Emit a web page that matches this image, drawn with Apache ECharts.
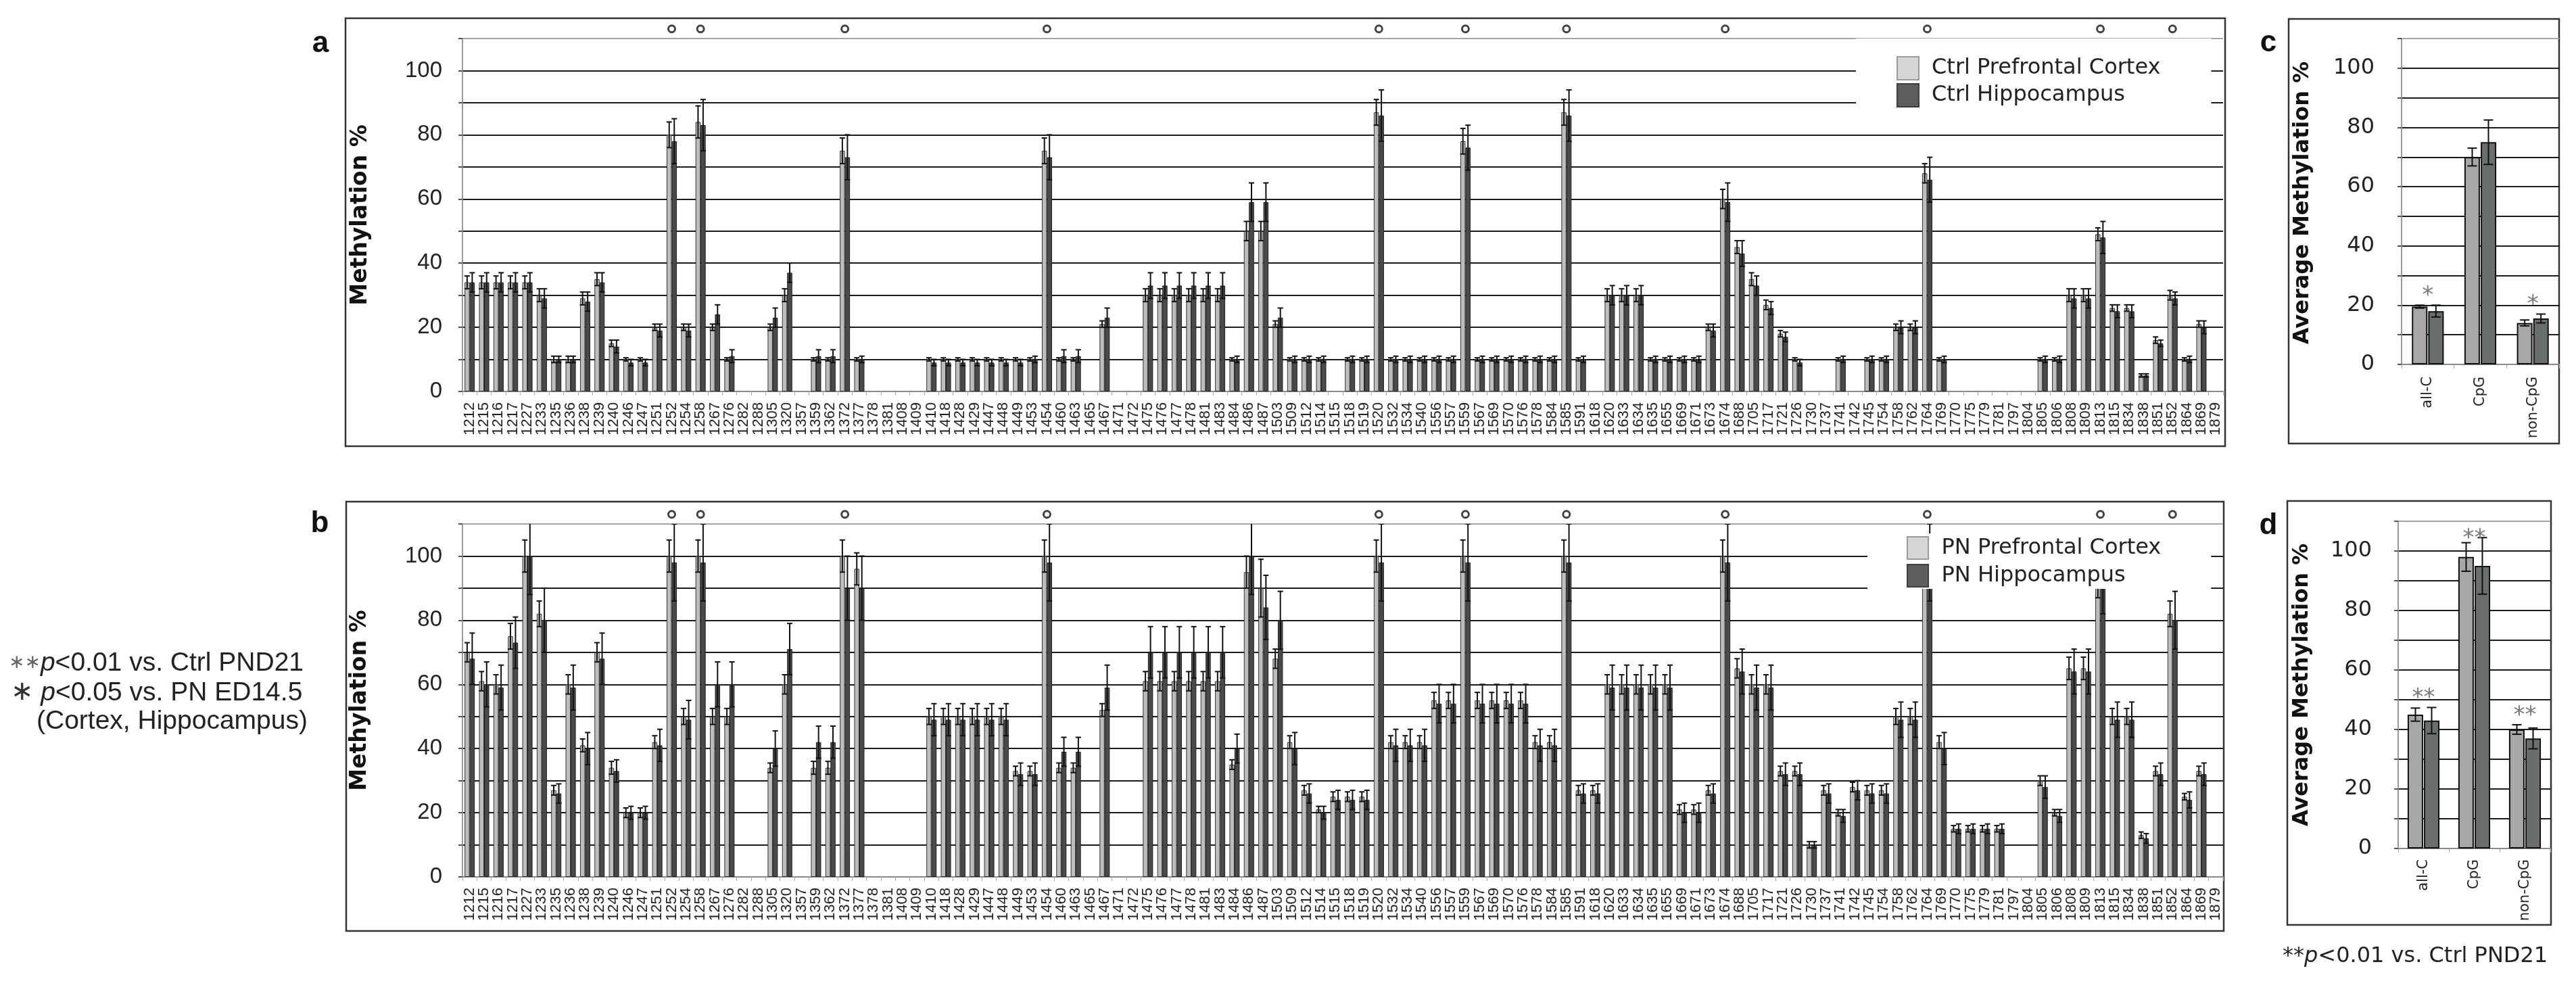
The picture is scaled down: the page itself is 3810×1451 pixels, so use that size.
<!DOCTYPE html>
<html>
<head>
<meta charset="utf-8">
<script src="https://cdn.jsdelivr.net/npm/echarts@6/dist/echarts.min.js"></script>
<style>
  html, body { margin: 0; padding: 0; background: #fff; }
  #chart { width: 3810px; height: 1451px; }
</style>
</head>
<body>
<div id="chart"></div>
<script>
// CpG / cytosine sites (x categories, panels a and b)
var sites = ['1212','1215','1216','1217','1227','1233','1235','1236','1238','1239',
  '1240','1246','1247','1251','1252','1254','1258','1267','1276','1282',
  '1288','1305','1320','1357','1359','1362','1372','1377','1378','1381',
  '1408','1409','1410','1418','1428','1429','1447','1448','1449','1453',
  '1454','1460','1463','1465','1467','1471','1472','1475','1476','1477',
  '1478','1481','1483','1484','1486','1487','1503','1509','1512','1514',
  '1515','1518','1519','1520','1532','1534','1540','1556','1557','1559',
  '1567','1569','1570','1576','1578','1584','1585','1591','1618','1620',
  '1633','1634','1635','1655','1669','1671','1673','1674','1688','1705',
  '1717','1721','1726','1730','1737','1741','1742','1745','1754','1758',
  '1762','1764','1769','1770','1775','1779','1781','1797','1804','1805',
  '1806','1808','1809','1813','1815','1834','1838','1851','1852','1864',
  '1869','1879'];

// sites flagged with "o" above the plot
var markedSites = ['1252','1258','1372','1454','1520','1559','1585','1674','1764','1813','1852'];

// panel a - Ctrl
var aPfc = [34,34,34,34,34,30,10,10,29,35,
  15,10,10,20,80,20,84,20,10,null,
  null,20,30,null,10,10,75,10,null,null,
  null,null,10,10,10,10,10,10,10,10,
  75,10,10,null,21,null,null,30,30,30,
  30,30,30,10,50,50,21,10,10,10,
  null,10,10,87,10,10,10,10,10,78,
  10,10,10,10,10,10,87,10,null,30,
  30,30,10,10,10,10,20,60,45,35,
  27,18,10,null,null,10,null,10,10,20,
  20,68,10,null,null,null,null,null,null,10,
  10,30,30,49,26,26,5,16,30,10,
  21,null];
var aHip = [34,34,34,34,34,29,10,10,28,34,
  14,9,9,19,78,19,83,24,11,null,
  null,23,37,null,11,11,73,10,null,null,
  null,null,9,9,9,9,9,9,9,10,
  73,11,11,null,23,null,null,33,33,33,
  33,33,33,10,59,59,23,10,10,10,
  null,10,10,86,10,10,10,10,10,76,
  10,10,10,10,10,10,86,10,null,30,
  30,30,10,10,10,10,19,59,43,33,
  26,17,9,null,null,10,null,10,10,20,
  20,66,10,null,null,null,null,null,null,10,
  10,29,29,48,25,25,5,15,29,10,
  20,null];
var aPfcErr = [2,2,2,2,2,2,1,1,2,2,
  1,0.5,0.5,1,4,1,5,1,0.5,0,
  0,1,2,0,0.5,0.5,4,0.5,0,0,
  0,0,0.5,0.5,0.5,0.5,0.5,0.5,0.5,0.5,
  4,0.5,0.5,0,1,0,0,2,2,2,
  2,2,2,0.5,3,3,1,0.5,0.5,0.5,
  0,0.5,0.5,4,0.5,0.5,0.5,0.5,0.5,4,
  0.5,0.5,0.5,0.5,0.5,0.5,4,0.5,0,2,
  2,2,0.5,0.5,0.5,0.5,1,3,2,2,
  1.5,1,0.5,0,0,0.5,0,0.5,0.5,1,
  1,3,0.5,0,0,0,0,0,0,0.5,
  0.5,2,2,2,1,1,0.5,1,1.5,0.5,
  1,0];
var aHipErr = [3,3,3,3,3,3,1,1,3,3,
  2,1,1,2,7,2,8,3,2,0,
  0,3,3,0,2,2,7,1,0,0,
  0,0,1,1,1,1,1,1,1,1,
  7,2,2,0,3,0,0,4,4,4,
  4,4,4,1,6,6,3,1,1,1,
  0,1,1,8,1,1,1,1,1,7,
  1,1,1,1,1,1,8,1,0,3,
  3,3,1,1,1,1,2,6,4,3,
  2,1.5,1,0,0,1,0,1,1,2,
  2,7,1,0,0,0,0,0,0,1,
  1,3,3,5,2,2,0.5,1,2,1,
  2,0];

// panel b - PN
var bPfc = [70,61,60,75,100,82,27,60,41,70,
  34,20,20,42,100,50,100,50,50,null,
  null,34,60,null,34,34,100,96,null,null,
  null,null,50,50,50,50,50,50,33,33,
  100,34,34,null,52,null,null,61,61,61,
  61,61,61,35,95,90,68,42,27,21,
  25,25,25,100,42,42,42,55,55,100,
  55,55,55,55,42,42,100,27,27,60,
  60,60,60,60,21,21,27,100,65,60,
  60,33,33,10,27,20,28,27,27,50,
  50,100,42,15,15,15,15,null,null,30,
  20,65,65,92,50,50,13,33,82,25,
  33,null];
var bHip = [68,60,59,73,100,80,26,59,40,68,
  33,20,20,41,98,49,98,60,60,null,
  null,40,71,null,42,42,90,90,null,null,
  null,null,49,49,49,49,49,49,32,32,
  98,39,39,null,59,null,null,70,70,70,
  70,70,70,40,100,84,80,40,26,20,
  24,24,24,98,41,41,41,54,54,98,
  54,54,54,54,41,41,98,26,26,59,
  59,59,59,59,20,20,26,98,64,59,
  59,32,32,10,26,19,27,26,26,49,
  49,98,40,15,15,15,15,null,null,28,
  19,64,64,90,49,49,12,32,80,24,
  32,null];
var bPfcErr = [3,3,3,4,5,4,1.5,3,2,3,
  2,1.5,1.5,2,5,2.5,5,2.5,2.5,0,
  0,1.5,3,0,2,2,5,5,0,0,
  0,0,2.5,2.5,2.5,2.5,2.5,2.5,1.5,1.5,
  5,1.5,1.5,0,2,0,0,3,3,3,
  3,3,3,1.5,5,9,3,2,1.5,1,
  1.5,1.5,1.5,5,2,2,2,2.5,2.5,5,
  2.5,2.5,2.5,2.5,2,2,5,1.5,1.5,3,
  3,3,3,3,1.5,1.5,1.5,5,3,3,
  3,1.5,1.5,1,1.5,1,1.5,1.5,1.5,2.5,
  2.5,5,2,1,1,1,1,0,0,1.5,
  1,3.5,3.5,5,2.5,2.5,1,1.5,4,1,
  1.5,0];
var bHipErr = [8,7,7,8,12,10,3,7,5,8,
  3.5,2,2,5,12,6,12,7,7,0,
  0,5.5,8,0,5,5,10,10,0,0,
  0,0,5,5,5,5,5,5,3.5,3.5,
  12,4.5,4.5,0,7,0,0,8,8,8,
  8,8,8,4.5,12,10,9,5,3,2,
  3,3,3,12,5,5,5,6,6,12,
  6,6,6,6,5,5,12,3,3,7,
  7,7,7,7,3,3,3,12,7,7,
  7,3.5,3.5,1,3,2,3,3,3,5.5,
  5.5,12,5,1.5,1.5,1.5,1.5,0,0,3.5,
  2,7,7,8,5.5,5.5,1.5,3.5,9,2.5,
  3.5,0];

// panels c and d - averages
var groups = ['all-C', 'CpG', 'non-CpG'];
var cPfc = [19.5, 70, 14];
var cPfcErr = [0.5, 3, 1];
var cHip = [18, 75, 15.5];
var cHipErr = [2, 7.5, 1.5];
var cStars = ['*', '', '*'];
var dPfc = [45, 98, 40];
var dPfcErr = [2.2, 4.8, 1.6];
var dHip = [43, 95, 37];
var dHipErr = [4.4, 9.5, 3.5];
var dStars = ['**', '**', '**'];

var chart = echarts.init(document.getElementById('chart'));

// gridline colours: 0 line grey, 10..100 black, top (110) grey
var lineColors = ['#8a8a8a'];
for (var k = 0; k < 10; k++) lineColors.push('#1c1c1c');
lineColors.push('#a5a5a5');

function valueAxis(gi, font, size, margin) {
  return {
    type: 'value', gridIndex: gi, min: 0, max: 110, interval: 10,
    axisLine: { show: true, lineStyle: { color: '#9a9a9a', width: 2 } },
    axisTick: { show: true, length: 6, lineStyle: { color: '#555', width: 2 } },
    axisLabel: {
      margin: margin, fontFamily: font, fontSize: size, color: '#222',
      formatter: function (v) { return (v % 20 === 0 && v <= 100) ? String(v) : ''; }
    },
    splitLine: { show: true, lineStyle: { color: lineColors, width: 2 } }
  };
}

function catAxis(gi, data, size, margin, font) {
  return {
    type: 'category', gridIndex: gi, data: data,
    axisLine: { lineStyle: { color: '#8a8a8a', width: 2 } },
    axisTick: { show: true, interval: 0, length: 6, lineStyle: { color: '#aaa', width: 1 } },
    axisLabel: { interval: 0, rotate: 90, fontSize: size, fontFamily: font, color: '#222', margin: margin }
  };
}

function barSeries(name, gi, data, fill, border, bw, bwidth, gap) {
  return {
    name: name, type: 'bar', xAxisIndex: gi, yAxisIndex: gi,
    data: data, barWidth: bwidth, barGap: gap, silent: true,
    itemStyle: { color: fill, borderColor: border, borderWidth: bw }
  };
}

// error bars drawn through the axes
function errSeries(gi, vals, errs, offset, cap, lw) {
  var pts = [];
  vals.forEach(function (v, i) { if (v !== null) pts.push([i, v, errs[i]]); });
  return {
    type: 'custom', xAxisIndex: gi, yAxisIndex: gi, clip: true, silent: true, z: 3,
    data: pts,
    renderItem: function (params, api) {
      var i = api.value(0), v = api.value(1), e = api.value(2);
      var hi = api.coord([i, v + e]);
      var lo = api.coord([i, v - e]);
      var x = hi[0] + offset;
      var st = { stroke: '#111', lineWidth: lw };
      return {
        type: 'group',
        children: [
          { type: 'line', shape: { x1: x, y1: hi[1], x2: x, y2: lo[1] }, style: st },
          { type: 'line', shape: { x1: x - cap / 2, y1: hi[1], x2: x + cap / 2, y2: hi[1] }, style: st },
          { type: 'line', shape: { x1: x - cap / 2, y1: lo[1], x2: x + cap / 2, y2: lo[1] }, style: st }
        ]
      };
    }
  };
}

function markSeries(gi) {
  return {
    type: 'scatter', xAxisIndex: gi, yAxisIndex: gi, clip: false, silent: true,
    symbol: 'circle', symbolSize: 10,
    itemStyle: { color: '#fff', borderColor: '#111', borderWidth: 3 },
    data: markedSites.map(function (s) { return [sites.indexOf(s), 113]; })
  };
}

function starSeries(gi, stars, p, pe, h, he) {
  var pts = [];
  stars.forEach(function (s, i) {
    if (s) pts.push([i, Math.min(Math.max(p[i] + pe[i], h[i] + he[i]) + 3, 104), s]);
  });
  return {
    type: 'custom', xAxisIndex: gi, yAxisIndex: gi, silent: true, z: 4,
    data: pts,
    renderItem: function (params, api) {
      var c = api.coord([api.value(0), api.value(1)]);
      return {
        type: 'text', x: c[0], y: c[1],
        style: {
          text: pts[params.dataIndex][2], fill: '#7a7a7a',
          fontSize: 34, fontFamily: 'DejaVu Sans',
          align: 'center', verticalAlign: 'middle'
        }
      };
    }
  };
}

var icon = 'path://M0,0H32V34H0Z';
var lightItem = { color: '#d6d6d6', borderColor: '#9a9a9a', borderWidth: 2 };
var darkItem = { color: '#5e5e5e', borderColor: '#3e3e3e', borderWidth: 2 };

var option = {
  animation: false,
  backgroundColor: '#fff',
  textStyle: { fontFamily: 'Liberation Sans' },
  grid: [
    { left: 684, top: 57, width: 2604, height: 522 },
    { left: 684, top: 775, width: 2604, height: 522 },
    { left: 3552, top: 57, width: 233, height: 482 },
    { left: 3547, top: 771, width: 225, height: 484 }
  ],
  xAxis: [
    catAxis(0, sites, 22, 16, 'Liberation Sans'),
    catAxis(1, sites, 22, 16, 'Liberation Sans'),
    catAxis(2, groups, 21, 18, 'DejaVu Sans'),
    catAxis(3, groups, 21, 16, 'DejaVu Sans')
  ],
  yAxis: [
    valueAxis(0, 'Liberation Sans', 33, 30),
    valueAxis(1, 'Liberation Sans', 33, 30),
    valueAxis(2, 'DejaVu Sans', 32, 40),
    valueAxis(3, 'DejaVu Sans', 32, 39)
  ],
  legend: [
    {
      orient: 'vertical', left: 2745, top: 57,
      padding: [26, 75, 15, 60], itemWidth: 60, itemHeight: 34, itemGap: 4,
      backgroundColor: '#fff', selectedMode: false,
      textStyle: { fontFamily: 'DejaVu Sans', fontSize: 32, color: '#222' },
      data: [
        { name: 'Ctrl Prefrontal Cortex', icon: icon, itemStyle: lightItem },
        { name: 'Ctrl Hippocampus', icon: icon, itemStyle: darkItem }
      ]
    },
    {
      orient: 'vertical', left: 2762, top: 789,
      padding: [4, 74, 2, 58], itemWidth: 60, itemHeight: 33, itemGap: 6,
      backgroundColor: '#fff', selectedMode: false,
      textStyle: { fontFamily: 'DejaVu Sans', fontSize: 32, color: '#222' },
      data: [
        { name: 'PN Prefrontal Cortex', icon: icon, itemStyle: lightItem },
        { name: 'PN Hippocampus', icon: icon, itemStyle: darkItem }
      ]
    }
  ],
  graphic: [
    { type: 'rect', shape: { x: 511, y: 27, width: 2780, height: 633 }, style: { fill: 'transparent', stroke: '#333', lineWidth: 2.5 } },
    { type: 'rect', shape: { x: 512, y: 742, width: 2777, height: 635 }, style: { fill: 'transparent', stroke: '#333', lineWidth: 2.5 } },
    { type: 'rect', shape: { x: 3385, y: 28, width: 400, height: 628 }, style: { fill: 'transparent', stroke: '#333', lineWidth: 2.5 } },
    { type: 'rect', shape: { x: 3383, y: 741, width: 390, height: 627 }, style: { fill: 'transparent', stroke: '#333', lineWidth: 2.5 } },
    { type: 'text', x: 474, y: 65, style: { text: 'a', fontSize: 44, fontWeight: 'bold', fontFamily: 'Liberation Sans', fill: '#111', align: 'center', verticalAlign: 'middle' } },
    { type: 'text', x: 473, y: 775, style: { text: 'b', fontSize: 44, fontWeight: 'bold', fontFamily: 'Liberation Sans', fill: '#111', align: 'center', verticalAlign: 'middle' } },
    { type: 'text', x: 3355, y: 64, style: { text: 'c', fontSize: 44, fontWeight: 'bold', fontFamily: 'Liberation Sans', fill: '#111', align: 'center', verticalAlign: 'middle' } },
    { type: 'text', x: 3355, y: 778, style: { text: 'd', fontSize: 44, fontWeight: 'bold', fontFamily: 'Liberation Sans', fill: '#111', align: 'center', verticalAlign: 'middle' } },
    { type: 'text', x: 533, y: 318, rotation: Math.PI / 2, style: { text: 'Methylation %', fontSize: 33, fontWeight: 'bold', fontFamily: 'DejaVu Sans', fill: '#111', align: 'center', verticalAlign: 'middle' } },
    { type: 'text', x: 532, y: 1036, rotation: Math.PI / 2, style: { text: 'Methylation %', fontSize: 33, fontWeight: 'bold', fontFamily: 'DejaVu Sans', fill: '#111', align: 'center', verticalAlign: 'middle' } },
    { type: 'text', x: 3406, y: 300, rotation: Math.PI / 2, style: { text: 'Average Methylation %', fontSize: 32, fontWeight: 'bold', fontFamily: 'DejaVu Sans', fill: '#111', align: 'center', verticalAlign: 'middle' } },
    { type: 'text', x: 3405, y: 1013, rotation: Math.PI / 2, style: { text: 'Average Methylation %', fontSize: 32, fontWeight: 'bold', fontFamily: 'DejaVu Sans', fill: '#111', align: 'center', verticalAlign: 'middle' } },
    {
      type: 'text', x: 13, y: 981,
      style: {
        text: '{s|\u2217\u2217}{i|p}<0.01 vs. Ctrl PND21', fontSize: 39, fontFamily: 'Liberation Sans', fill: '#222', verticalAlign: 'middle',
        rich: { s: { fontSize: 28, fontFamily: 'DejaVu Sans', fill: '#666' }, i: { fontStyle: 'italic', fontSize: 39, fontFamily: 'Liberation Sans', fill: '#222' } }
      }
    },
    {
      type: 'text', x: 16, y: 1025,
      style: {
        text: '{s|\u2217} {i|p}<0.05 vs. PN ED14.5', fontSize: 39, fontFamily: 'Liberation Sans', fill: '#222', verticalAlign: 'middle',
        rich: { s: { fontSize: 40, fontFamily: 'DejaVu Sans', fill: '#333' }, i: { fontStyle: 'italic', fontSize: 39, fontFamily: 'Liberation Sans', fill: '#222' } }
      }
    },
    { type: 'text', x: 54, y: 1067, style: { text: '(Cortex, Hippocampus)', fontSize: 39, fontFamily: 'Liberation Sans', fill: '#222', verticalAlign: 'middle' } },
    {
      type: 'text', x: 3376, y: 1415,
      style: {
        text: '**{i|p}<0.01 vs. Ctrl PND21', fontSize: 32, fontFamily: 'DejaVu Sans', fill: '#222', verticalAlign: 'middle',
        rich: { i: { fontStyle: 'italic', fontSize: 32, fontFamily: 'DejaVu Sans', fill: '#222' } }
      }
    }
  ],
  series: [
    barSeries('Ctrl Prefrontal Cortex', 0, aPfc, '#bdbdbd', '#333', 1, 7.5, '0%'),
    barSeries('Ctrl Hippocampus', 0, aHip, '#4a4a4a', '#1e1e1e', 1, 7.5, '0%'),
    errSeries(0, aPfc, aPfcErr, -3.75, 8, 2),
    errSeries(0, aHip, aHipErr, 3.75, 8, 2),
    markSeries(0),

    barSeries('PN Prefrontal Cortex', 1, bPfc, '#bdbdbd', '#333', 1, 7.5, '0%'),
    barSeries('PN Hippocampus', 1, bHip, '#4a4a4a', '#1e1e1e', 1, 7.5, '0%'),
    errSeries(1, bPfc, bPfcErr, -3.75, 8, 2),
    errSeries(1, bHip, bHipErr, 3.75, 8, 2),
    markSeries(1),

    barSeries('Ctrl PFC average', 2, cPfc, '#a7a7a7', '#111', 2, 23, '5%'),
    barSeries('Ctrl Hip average', 2, cHip, '#6a6f6c', '#111', 2, 23, '5%'),
    errSeries(2, cPfc, cPfcErr, -12, 14, 2),
    errSeries(2, cHip, cHipErr, 12, 14, 2),
    starSeries(2, cStars, cPfc, cPfcErr, cHip, cHipErr),

    barSeries('PN PFC average', 3, dPfc, '#a7a7a7', '#111', 2, 23, '5%'),
    barSeries('PN Hip average', 3, dHip, '#6a6f6c', '#111', 2, 23, '5%'),
    errSeries(3, dPfc, dPfcErr, -12, 14, 2),
    errSeries(3, dHip, dHipErr, 12, 14, 2),
    starSeries(3, dStars, dPfc, dPfcErr, dHip, dHipErr)
  ]
};

chart.setOption(option);
</script>
</body>
</html>
